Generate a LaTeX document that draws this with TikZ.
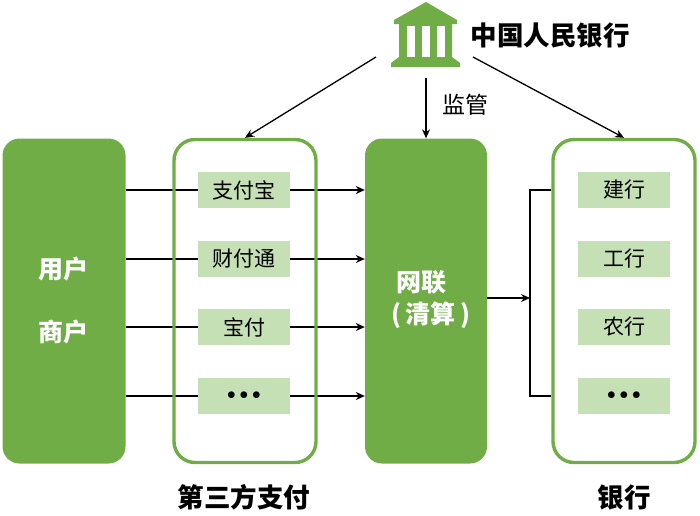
\documentclass[tikz,border=0pt]{standalone}
\usepackage{fontspec}
\setmainfont{Noto Sans CJK SC}
\usetikzlibrary{positioning,arrows.meta}
\definecolor{leaf}{HTML}{70AD47}
\definecolor{pale}{HTML}{C5E0B4}
\newcommand{\threedots}{{\fontsize{18}{18}\selectfont$\bullet\bullet\bullet$}}
\tikzset{
  solid box/.style={draw=none,fill=leaf,rounded corners=17pt},
  open box/.style={draw=leaf,line width=3.4pt,rounded corners=21pt},
  item/.style={fill=pale,minimum width=92pt,minimum height=36pt,inner sep=0pt,font=\fontsize{21}{21}\selectfont},
  link/.style={draw=black,line width=1.3pt,-{Stealth[length=9pt,width=8pt]}},
  plain/.style={draw=black,line width=1.3pt},
  title/.style={font=\bfseries\fontsize{26.5}{26.5}\selectfont},
  inner label/.style={text=white,font=\bfseries\fontsize{25}{25}\selectfont}
}
\begin{document}
\begin{tikzpicture}[x=1pt,y=-1pt]
    \useasboundingbox (0,0) rectangle (700,515);
    % boxes
    \node[solid box,minimum width=123pt,minimum height=325pt] (user) at (64,301) {};
    \node[solid box,minimum width=122pt,minimum height=325pt] (union) at (426,301) {};
    \node[inner label] (yonghu) at (63,269) {用户};
    \node[inner label] (shanghu) at (63,332) {商户};
    \node[inner label] (wanglian) at (421,282) {网联};
    \node[inner label] (qingsuan) at (431,315) {(\,清算\,)};
    % links under the open boxes
    \foreach \y/\a in {190/zfb,259/cft,327/bf,396/more} {
      \coordinate (from\a) at (user.east |- 0,\y);
      \coordinate (to\a) at (union.west |- 0,\y);
      \draw[link] (from\a) -- (to\a);
    }
    \node[open box,minimum width=142pt,minimum height=323pt] (third) at (245,301) {};
    \node[open box,minimum width=142pt,minimum height=323pt] (bank) at (624,301) {};
    % items
    \node[item] (zfb) at (244,190) {支付宝};
    \node[item] (cft) at (244,259) {财付通};
    \node[item] (bf) at (244,327) {宝付};
    \node[item] (more) at (244,396) {\threedots};
    \node[item] (jh) at (624,190) {建行};
    \node[item] (gh) at (624,259) {工行};
    \node[item] (nh) at (624,327) {农行};
    \node[item] (etc) at (624,396) {\threedots};
    % titles
    \node[title] (pbc) at (550,36) {中国人民银行};
    \node[font=\fontsize{23}{23}\selectfont] (jg) at (465,105) {监管};
    \node[title] (t3) at (244,497) {第三方支付};
    \node[title] (t4) at (624,497) {银行};
    % bank icon
    \fill[leaf] (426,2) -- (394,20) -- (394,24) -- (399,24) -- (399,57) -- (391,63) -- (391,67)
      -- (460,67) -- (460,63) -- (452,57) -- (452,24) -- (457,24) -- (457,20) -- cycle;
    \foreach \x in {407,422,437} \fill[white] (\x,26) rectangle +(8,31);
    \coordinate (top) at (426,78);
    \coordinate (left) at (376,57);
    \coordinate (right) at (473,57);
    \draw[link] (left) -- (third.north);
    \draw[link] (top) -- (union.north);
    \draw[link] (right) -- (bank.north);
    % bank side
    \coordinate (barup) at (530,190);
    \coordinate (bardown) at (530,396);
    \coordinate (barmid) at (530,298);
    \draw[plain] (bank.west |- barup) -- (barup) -- (bardown) -- (bank.west |- bardown);
    \draw[link] (union.east |- barmid) -- (barmid);
\end{tikzpicture}
\end{document}
